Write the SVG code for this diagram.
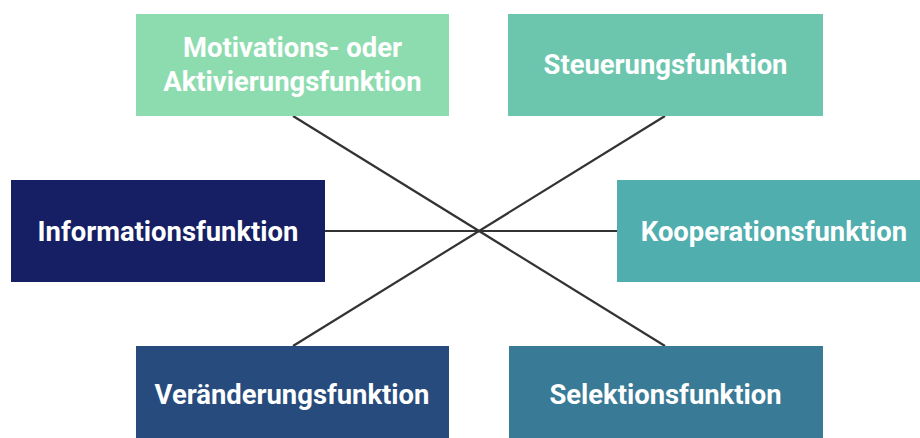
<svg xmlns="http://www.w3.org/2000/svg" width="920" height="438" viewBox="0 0 920 438">
<style>
.t{font-family:Roboto,"Liberation Sans",sans-serif;font-weight:bold;font-size:27.4px;fill:#ffffff;text-anchor:middle}
.c{stroke:#333333;stroke-width:2.2;fill:none}
</style>
<rect width="920" height="438" fill="#ffffff"/>
<g id="connectors">
<line class="c" x1="293" y1="116" x2="665" y2="346"/>
<line class="c" x1="665" y1="116" x2="293" y2="346"/>
<line class="c" x1="325" y1="231" x2="617" y2="231"/>
</g>
<g id="motivation">
<rect x="136" y="14" width="313" height="102" fill="#8ddcb0"/>
<text class="t" x="292.5" y="57">Motivations- oder</text>
<text class="t" x="292.5" y="91">Aktivierungsfunktion</text>
</g>
<g id="steuerung">
<rect x="508" y="14" width="315" height="102" fill="#6cc6ae"/>
<text class="t" x="665.5" y="74">Steuerungsfunktion</text>
</g>
<g id="information">
<rect x="11" y="180" width="314" height="102" fill="#161f63"/>
<text class="t" x="168" y="241">Informationsfunktion</text>
</g>
<g id="kooperation">
<rect x="617" y="180" width="314" height="102" fill="#50aeae"/>
<text class="t" x="774" y="241">Kooperationsfunktion</text>
</g>
<g id="veraenderung">
<rect x="136" y="346" width="313" height="102" fill="#264b7c"/>
<text class="t" x="292" y="404">Veränderungsfunktion</text>
</g>
<g id="selektion">
<rect x="509" y="346" width="314" height="102" fill="#397a96"/>
<text class="t" x="665.5" y="404">Selektionsfunktion</text>
</g>
</svg>
